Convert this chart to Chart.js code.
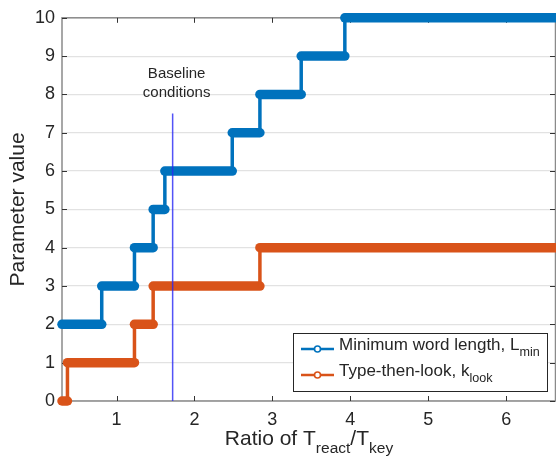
<!DOCTYPE html>
<html>
<head>
<meta charset="utf-8">
<script src="https://cdn.jsdelivr.net/npm/chart.js@4.4.1/dist/chart.umd.min.js"></script>
<style>
  html, body { margin: 0; padding: 0; background: #fff; }
  #wrap { width: 556px; height: 459px; position: relative; }
</style>
</head>
<body>
<div id="wrap"><canvas id="chart"></canvas></div>
<script>
// axis ranges and ticks
const xMin = 0.3;
const xMax = 6.64;
const xTicks = [1, 2, 3, 4, 5, 6];
const yTicks = [0, 1, 2, 3, 4, 5, 6, 7, 8, 9, 10];

// step series: edges on the ratio axis, level held between consecutive edges
const lminEdges = [0.30, 0.81, 1.23, 1.47, 1.62, 2.485, 2.84, 3.37, 3.93, 6.64];
const lminLevels = [2, 3, 4, 5, 6, 7, 8, 9, 10];
const klookEdges = [0.30, 0.37, 1.23, 1.47, 2.84, 6.64];
const klookLevels = [0, 1, 2, 3, 4];

// baseline marker
const baselineRatio = 1.72;
const baselineSpan = [0, 7.5];

const BLUE = '#0072BD';
const ORANGE = '#D95319';
const TEXT = '#262626';
const FONT = '"Liberation Sans", Arial, Helvetica, sans-serif';

function stepPoints(edges, levels) {
  const pts = [];
  for (let i = 0; i < levels.length; i++) {
    pts.push({ x: edges[i], y: levels[i] });
    pts.push({ x: edges[i + 1], y: levels[i] });
  }
  return pts;
}

// thick band for flat parts, thin line for the jumps
function segWidth(ctx) {
  return Math.abs(ctx.p0.y - ctx.p1.y) < 0.5 ? 9.5 : 3.5;
}

// draws text with subscripts, parts = [[text, isSub], ...]
function drawRich(ctx, parts, x, y, size, align) {
  const subSize = size * 0.74;
  let total = 0;
  const widths = parts.map(function (p) {
    ctx.font = (p[1] ? subSize : size) + 'px ' + FONT;
    const w = ctx.measureText(p[0]).width;
    total += w;
    return w;
  });
  let cx = align === 'center' ? x - total / 2 : x;
  ctx.textAlign = 'left';
  ctx.textBaseline = 'alphabetic';
  parts.forEach(function (p, i) {
    ctx.font = (p[1] ? subSize : size) + 'px ' + FONT;
    ctx.fillText(p[0], cx, p[1] ? y + size * 0.38 : y);
    cx += widths[i];
  });
}

const frame = {
  id: 'frame',
  beforeDatasetsDraw(chart) {
    const ctx = chart.ctx;
    const a = chart.chartArea;
    const xs = chart.scales.x;
    const ys = chart.scales.y;
    ctx.save();
    // box
    ctx.strokeStyle = '#8a8a8a';
    ctx.lineWidth = 1.5;
    ctx.strokeRect(a.left, a.top, a.right - a.left - 0.5, a.bottom - a.top);
    // inward tick marks
    ctx.strokeStyle = '#333';
    ctx.lineWidth = 1;
    ctx.beginPath();
    xTicks.forEach(function (t) {
      const px = Math.round(xs.getPixelForValue(t)) + 0.5;
      ctx.moveTo(px, a.bottom); ctx.lineTo(px, a.bottom - 5);
      ctx.moveTo(px, a.top); ctx.lineTo(px, a.top + 5);
    });
    yTicks.forEach(function (t) {
      const py = Math.round(ys.getPixelForValue(t)) + 0.5;
      ctx.moveTo(a.left, py); ctx.lineTo(a.left + 5, py);
      ctx.moveTo(a.right - 1, py); ctx.lineTo(a.right - 6, py);
    });
    ctx.stroke();
    ctx.restore();
  },
  afterDraw(chart) {
    const ctx = chart.ctx;
    const a = chart.chartArea;
    const xs = chart.scales.x;
    ctx.save();
    ctx.fillStyle = TEXT;

    // y title
    ctx.save();
    ctx.translate(24, (a.top + a.bottom) / 2);
    ctx.rotate(-Math.PI / 2);
    ctx.font = '21px ' + FONT;
    ctx.textAlign = 'center';
    ctx.textBaseline = 'alphabetic';
    ctx.fillText('Parameter value', 0, 0);
    ctx.restore();

    // x title
    drawRich(ctx, [['Ratio of T', false], ['react', true], ['/T', false], ['key', true]],
      (a.left + a.right) / 2, 445, 21, 'center');

    // baseline annotation
    const bx = xs.getPixelForValue(baselineRatio) + 4;
    ctx.font = '15px ' + FONT;
    ctx.textAlign = 'center';
    ctx.textBaseline = 'alphabetic';
    ctx.fillText('Baseline', bx, 78);
    ctx.fillText('conditions', bx, 97);

    // legend
    const lx = 293, ly = 333, lw = 254, lh = 58;
    ctx.fillStyle = '#fff';
    ctx.fillRect(lx, ly, lw, lh);
    ctx.strokeStyle = TEXT;
    ctx.lineWidth = 1;
    ctx.strokeRect(lx + 0.5, ly + 0.5, lw, lh);
    const rows = [
      { color: BLUE, y: 349, parts: [['Minimum word length, L', false], ['min', true]] },
      { color: ORANGE, y: 375, parts: [['Type-then-look, k', false], ['look', true]] }
    ];
    rows.forEach(function (r) {
      ctx.strokeStyle = r.color;
      ctx.lineWidth = 2.5;
      ctx.beginPath();
      ctx.moveTo(301, r.y); ctx.lineTo(334, r.y);
      ctx.stroke();
      ctx.fillStyle = '#fff';
      ctx.lineWidth = 1.6;
      ctx.beginPath();
      ctx.arc(317.5, r.y, 3, 0, Math.PI * 2);
      ctx.fill();
      ctx.stroke();
      ctx.fillStyle = TEXT;
      drawRich(ctx, r.parts, 339, r.y + 1, 17, 'left');
    });
    ctx.restore();
  }
};

const ctx = document.getElementById('chart').getContext('2d');
const chart = new Chart(ctx, {
  type: 'scatter',
  data: {
    datasets: [
      {
        label: 'Minimum word length, Lmin',
        data: stepPoints(lminEdges, lminLevels),
        showLine: true,
        borderColor: BLUE,
        backgroundColor: BLUE,
        borderWidth: 9.5,
        borderCapStyle: 'round',
        borderJoinStyle: 'round',
        pointRadius: 0,
        clip: false,
        segment: { borderWidth: segWidth },
        order: 2
      },
      {
        label: 'Type-then-look, klook',
        data: stepPoints(klookEdges, klookLevels),
        showLine: true,
        borderColor: ORANGE,
        backgroundColor: ORANGE,
        borderWidth: 9.5,
        borderCapStyle: 'round',
        borderJoinStyle: 'round',
        pointRadius: 0,
        clip: false,
        segment: { borderWidth: segWidth },
        order: 1
      },
      {
        label: 'Baseline',
        data: [{ x: baselineRatio, y: baselineSpan[0] }, { x: baselineRatio, y: baselineSpan[1] }],
        showLine: true,
        borderColor: 'rgba(40, 40, 245, 0.8)',
        borderWidth: 1.5,
        pointRadius: 0,
        order: 0
      }
    ]
  },
  options: {
    responsive: true,
    maintainAspectRatio: false,
    animation: false,
    layout: { padding: { top: 15, right: 0, left: 0, bottom: 0 } },
    plugins: {
      legend: { display: false },
      tooltip: { enabled: false }
    },
    scales: {
      x: {
        type: 'linear',
        min: xMin,
        max: xMax,
        afterBuildTicks: function (scale) {
          scale.ticks = xTicks.map(function (v) { return { value: v }; });
        },
        afterFit: function (scale) { scale.height = 58; },
        grid: { display: false, drawTicks: false },
        border: { display: false },
        ticks: {
          color: TEXT,
          padding: 8,
          maxRotation: 0,
          font: { family: FONT, size: 18 }
        }
      },
      y: {
        type: 'linear',
        min: 0,
        max: 10,
        afterBuildTicks: function (scale) {
          scale.ticks = yTicks.map(function (v) { return { value: v }; });
        },
        afterFit: function (scale) { scale.width = 62; },
        grid: { color: '#e2e2e2', lineWidth: 1.2, drawTicks: false },
        border: { display: false },
        ticks: {
          color: TEXT,
          padding: 7,
          font: { family: FONT, size: 18 }
        }
      }
    }
  },
  plugins: [frame]
});
</script>
</body>
</html>
